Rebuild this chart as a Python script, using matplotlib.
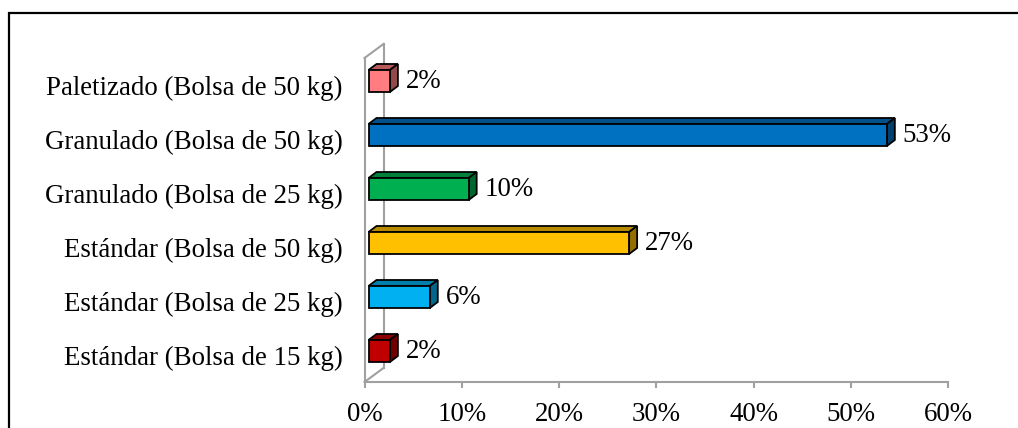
import matplotlib.pyplot as plt
from matplotlib.patches import Polygon, Rectangle
import matplotlib.colors as mcolors

# data, bottom to top
categories = ['Estándar (Bolsa de 15 kg)', 'Estándar (Bolsa de 25 kg)',
              'Estándar (Bolsa de 50 kg)', 'Granulado (Bolsa de 25 kg)',
              'Granulado (Bolsa de 50 kg)', 'Paletizado (Bolsa de 50 kg)']
values = [2.2, 6.3, 26.8, 10.3, 53.3, 2.2]
colors = ['#C00000', '#00B0F0', '#FFC000', '#00B050', '#0070C0', '#FF7C80']
xticks = [0, 10, 20, 30, 40, 50, 60]

plt.rcParams['font.family'] = ['Liberation Serif', 'DejaVu Serif']
fs = 19.4

W, H = 1018, 428
fig = plt.figure(figsize=(W / 100, H / 100), dpi=100)
# axes: front plane of the chart in pixels
ax_l, ax_r, ax_b, ax_t = 364.5, 948, 382, 58
ax = fig.add_axes([ax_l / W, (H - ax_b) / H, (ax_r - ax_l) / W, (ax_b - ax_t) / H])
ax.set_xlim(0, 60)
ax.set_ylim(-0.5, 5.5)

# pixel -> data conversion
kx = 60 / (ax_r - ax_l)
ky = 6 / (ax_b - ax_t)

gray = '#A0A0A0'
lw_wall = 1.5
for s in ['top', 'right']:
    ax.spines[s].set_visible(False)
for s in ['bottom', 'left']:
    ax.spines[s].set_color(gray)
    ax.spines[s].set_linewidth(lw_wall)

# back wall lines
wdx, wdy = 19 * kx, 14 * ky
ax.plot([wdx, wdx], [-0.5 + wdy, 5.5 + wdy], color=gray, lw=lw_wall, clip_on=False)
ax.plot([0, wdx], [5.5, 5.5 + wdy], color=gray, lw=lw_wall, clip_on=False)
ax.plot([0, wdx], [-0.5, -0.5 + wdy], color=gray, lw=lw_wall, clip_on=False)

ax.set_xticks(xticks)
ax.set_xticklabels([f'{t}%' for t in xticks], fontsize=fs)
ax.tick_params(axis='x', direction='out', length=4.5, width=lw_wall, color=gray, pad=10)
ax.set_yticks(range(len(categories)))
ax.set_yticklabels(categories, fontsize=fs)
ax.tick_params(axis='y', length=0, pad=16)

# 3d bars
fx, fy = 4 * kx, 4 * ky
dx, dy = 8 * kx, 6 * ky
h = 22 * ky
for i, (v, c) in enumerate(zip(values, colors)):
    x0, x1 = fx, v + fx
    yb, yt = i + fy - h / 2, i + fy + h / 2
    rgb = mcolors.to_rgb(c)
    top_c = tuple(k * 0.72 for k in rgb)
    side_c = tuple(k * 0.58 for k in rgb)
    front = Polygon([(x0, yb), (x1, yb), (x1, yt), (x0, yt)], closed=True,
                    facecolor=c, edgecolor='black', lw=1.3, clip_on=False, zorder=3)
    top = Polygon([(x0, yt), (x1, yt), (x1 + dx, yt + dy), (x0 + dx, yt + dy)], closed=True,
                  facecolor=top_c, edgecolor='black', lw=1.3, clip_on=False, zorder=3)
    side = Polygon([(x1, yb), (x1, yt), (x1 + dx, yt + dy), (x1 + dx, yb + dy)], closed=True,
                   facecolor=side_c, edgecolor='black', lw=1.3, clip_on=False, zorder=3)
    ax.add_patch(top)
    ax.add_patch(side)
    ax.add_patch(front)
    ax.text(x1 + dx + 8 * kx, i + fy, f'{round(v)}%', fontsize=fs,
            va='center', ha='left', zorder=4)

# outer frame
fig.add_artist(Rectangle((9 / W, -0.1), 1.2, 1.1 - 13 / H, transform=fig.transFigure,
                         fill=False, edgecolor='black', lw=1.6))

fig.savefig('out.png', dpi=100)
